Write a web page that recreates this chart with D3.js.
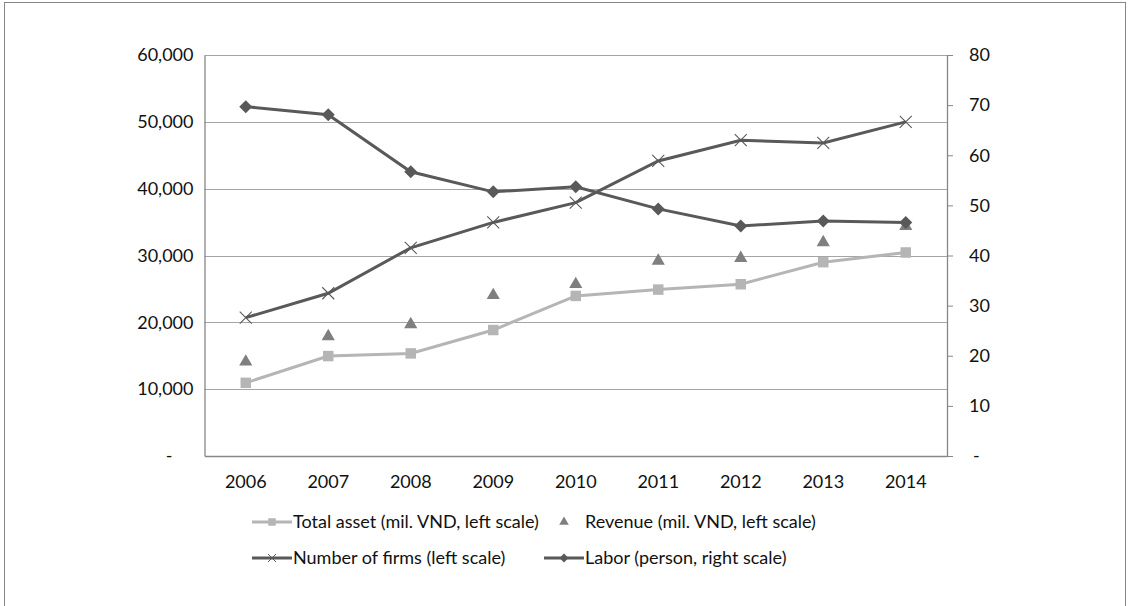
<!DOCTYPE html>
<html>
<head>
<meta charset="utf-8">
<script src="https://cdn.jsdelivr.net/npm/d3@7"></script>
<style>
  body { margin: 0; background: #fff; }
  svg { display: block; }
  text { font-family: Lato, "Open Sans", sans-serif; fill: #111; }
</style>
</head>
<body>
<svg id="chart" width="1135" height="606"></svg>
<script>
// Firm statistics, 2006–2014
const years = ["2006", "2007", "2008", "2009", "2010", "2011", "2012", "2013", "2014"];
const totalAsset = [10950, 14950, 15350, 18850, 23950, 24900, 25700, 29000, 30450];   // mil. VND, left scale
const revenue = [14100, 17900, 19700, 24050, 25700, 29200, 29600, 31950, 34400];      // mil. VND, left scale
const numberOfFirms = [20700, 24350, 31150, 34950, 37900, 44150, 47250, 46850, 50000]; // left scale
const labor = [69.7, 68.1, 56.7, 52.7, 53.7, 49.3, 45.9, 46.9, 46.6];                  // person, right scale

const leftTicks = [0, 10000, 20000, 30000, 40000, 50000, 60000];
const rightTicks = [0, 10, 20, 30, 40, 50, 60, 70, 80];

const legendLabels = [
  "Total asset (mil. VND, left scale)",
  "Revenue (mil. VND, left scale)",
  "Number of firms (left scale)",
  "Labor (person, right scale)"
];

const svg = d3.select("#chart");
const plot = { left: 204.5, right: 947, top: 55, bottom: 456 };

const colAsset = "#b5b5b5", colRevenue = "#7f7f7f", colDark = "#595959";
const colGrid = "#a5a5a5", colAxis = "#878787";
const fontSize = 18;
const fontFamily = "Lato, sans-serif";

// outer frame
svg.append("rect")
  .attr("x", 4.5).attr("y", 2.5).attr("width", 1121).attr("height", 640)
  .attr("fill", "none").attr("stroke", "#878787").attr("stroke-width", 1);

const x = d3.scaleBand().domain(years).range([plot.left, plot.right]);
const cx = d => x(d) + x.bandwidth() / 2;
const yL = d3.scaleLinear().domain([0, 60000]).range([plot.bottom, plot.top]);
const yR = d3.scaleLinear().domain([0, 80]).range([plot.bottom, plot.top]);

// horizontal gridlines on the left scale
svg.append("g")
  .selectAll("line")
  .data(leftTicks.filter(d => d > 0))
  .join("line")
  .attr("x1", plot.left).attr("x2", plot.right)
  .attr("y1", d => Math.round(yL(d)) + 0.5).attr("y2", d => Math.round(yL(d)) + 0.5)
  .attr("stroke", colGrid).attr("stroke-width", 1.2);

// left axis
const fmtLeft = d => d === 0 ? "-" : d3.format(",")(d);
const gLeft = svg.append("g")
  .attr("transform", `translate(${plot.left},0)`)
  .call(d3.axisLeft(yL).tickValues(leftTicks).tickSize(0).tickPadding(11).tickFormat(fmtLeft));
gLeft.select(".domain").attr("stroke", colAxis).attr("stroke-width", 1.3);
gLeft.selectAll("text").attr("font-size", fontSize).attr("font-family", fontFamily).attr("fill", "#111")
  .attr("dx", d => d === 0 ? -21 : 0);

// right axis
const gRight = svg.append("g")
  .attr("transform", `translate(${plot.right},0)`)
  .call(d3.axisRight(yR).tickValues(rightTicks).tickSize(6).tickSizeOuter(0).tickPadding(16)
    .tickFormat(d => d === 0 ? "-" : d));
gRight.select(".domain").attr("stroke", colAxis).attr("stroke-width", 1.3);
gRight.selectAll(".tick line").attr("stroke", colAxis);
gRight.selectAll("text").attr("font-size", fontSize).attr("font-family", fontFamily).attr("fill", "#111")
  .attr("dx", d => d === 0 ? 4 : 0);

// category axis
const gBottom = svg.append("g")
  .attr("transform", `translate(0,${plot.bottom})`)
  .call(d3.axisBottom(x).tickSize(0).tickPadding(19).tickSizeOuter(0));
gBottom.select(".domain").attr("stroke", colAxis).attr("stroke-width", 1.3);
gBottom.selectAll("text").attr("font-size", fontSize).attr("font-family", fontFamily).attr("fill", "#111");

// marker shapes
const squareSym = d3.symbol().type(d3.symbolSquare).size(110);
const triSym = d3.symbol().type(d3.symbolTriangle).size(75);
const diamondPath = s => `M0,${-s}L${s},0L0,${s}L${-s},0Z`;
const crossPath = s => `M${-s},${-s}L${s},${s}M${-s},${s}L${s},${-s}`;

const lineL = d3.line().x((d, i) => cx(years[i])).y(d => yL(d));
const lineR = d3.line().x((d, i) => cx(years[i])).y(d => yR(d));

// Total asset
svg.append("path").datum(totalAsset).attr("d", lineL)
  .attr("fill", "none").attr("stroke", colAsset).attr("stroke-width", 3);
svg.append("g").selectAll("path").data(totalAsset).join("path")
  .attr("transform", (d, i) => `translate(${cx(years[i])},${yL(d)})`)
  .attr("d", squareSym()).attr("fill", colAsset);

// Revenue (markers only)
svg.append("g").selectAll("path").data(revenue).join("path")
  .attr("transform", (d, i) => `translate(${cx(years[i])},${yL(d)})`)
  .attr("d", triSym()).attr("fill", colRevenue);

// Number of firms
svg.append("path").datum(numberOfFirms).attr("d", lineL)
  .attr("fill", "none").attr("stroke", colDark).attr("stroke-width", 3);
svg.append("g").selectAll("path").data(numberOfFirms).join("path")
  .attr("transform", (d, i) => `translate(${cx(years[i])},${yL(d)})`)
  .attr("d", crossPath(6)).attr("fill", "none").attr("stroke", colDark).attr("stroke-width", 1.1);

// Labor on the right scale
svg.append("path").datum(labor).attr("d", lineR)
  .attr("fill", "none").attr("stroke", colDark).attr("stroke-width", 3);
svg.append("g").selectAll("path").data(labor).join("path")
  .attr("transform", (d, i) => `translate(${cx(years[i])},${yR(d)})`)
  .attr("d", diamondPath(6.5)).attr("fill", colDark);

// legend, two rows of two entries
const legend = svg.append("g").attr("font-size", fontSize).attr("font-family", fontFamily);
const entries = [
  { col: 0, row: 0, label: legendLabels[0], line: colAsset, marker: "square" },
  { col: 1, row: 0, label: legendLabels[1], line: null, marker: "triangle" },
  { col: 0, row: 1, label: legendLabels[2], line: colDark, marker: "cross" },
  { col: 1, row: 1, label: legendLabels[3], line: colDark, marker: "diamond" }
];
const colX = [252, 544], rowY = [522, 558];
entries.forEach(e => {
  const g = legend.append("g").attr("transform", `translate(${colX[e.col]},${rowY[e.row]})`);
  if (e.line) {
    g.append("line").attr("x1", 0).attr("x2", 40).attr("y1", 0).attr("y2", 0)
      .attr("stroke", e.line).attr("stroke-width", 3);
  }
  const m = g.append("path").attr("transform", "translate(20,0)");
  if (e.marker === "square") m.attr("d", d3.symbol().type(d3.symbolSquare).size(56)()).attr("fill", colAsset);
  if (e.marker === "triangle") m.attr("d", d3.symbol().type(d3.symbolTriangle).size(40)()).attr("fill", colRevenue);
  if (e.marker === "cross") m.attr("d", crossPath(4)).attr("fill", "none").attr("stroke", colDark).attr("stroke-width", 1);
  if (e.marker === "diamond") m.attr("d", diamondPath(4.5)).attr("fill", colDark);
  g.append("text").attr("x", 41).attr("y", 0).attr("dy", "0.35em").text(e.label);
});
</script>
</body>
</html>
